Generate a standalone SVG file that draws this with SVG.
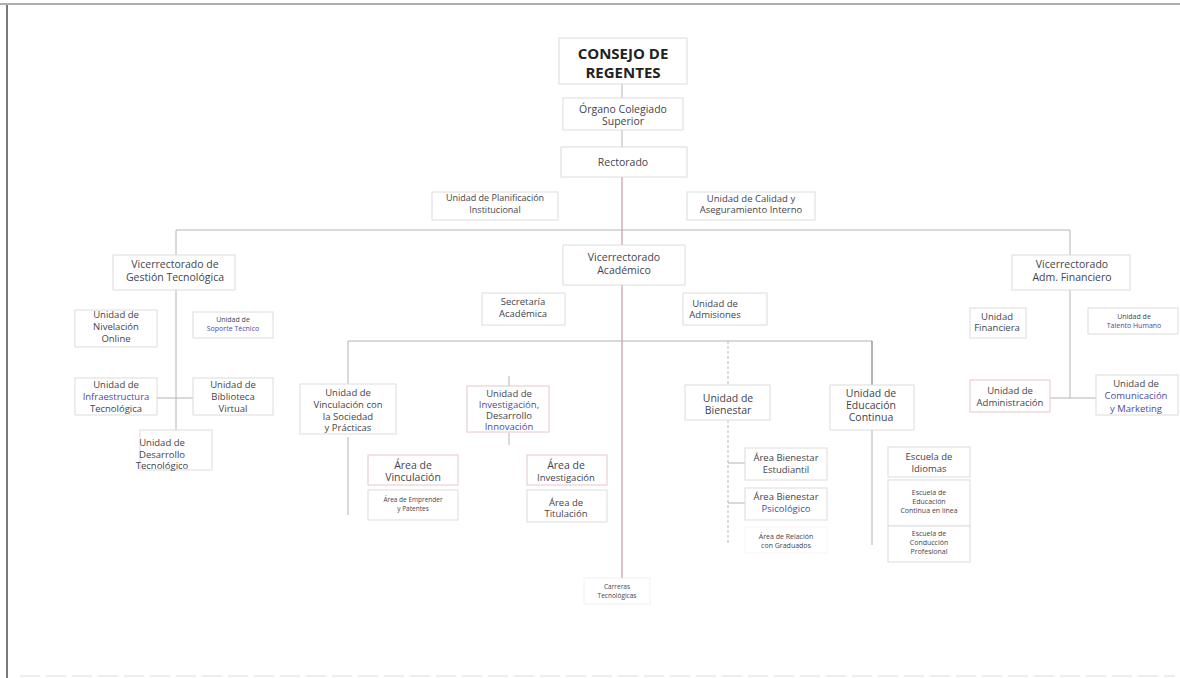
<svg xmlns="http://www.w3.org/2000/svg" width="1180" height="678" viewBox="0 0 1180 678">
<style>
  text { font-family: "Open Sans", "Liberation Sans", sans-serif; font-size: 9.5px; fill: #44444e; text-anchor: middle; }
  .sm { font-size: 7px; }
  .xs { font-size: 6.5px; }
  .md { font-size: 10.5px; }
  .b { fill: #4a4aa8; }
  .title { font-size: 15px; font-weight: bold; fill: #222; }
  .box { fill: #fff; stroke: #dcdcdc; stroke-width: 1; }
  .boxp { fill: #fff; stroke: #e6c6cc; stroke-width: 1; }
  .ln { stroke: #b4b4b4; stroke-width: 1; fill: none; }
  .lnd { stroke: #666; stroke-width: 1; fill: none; }
  .sp { stroke: #c89aa4; stroke-width: 1.2; fill: none; }
  .dash { stroke: #bbb; stroke-width: 1; stroke-dasharray: 3 2; fill: none; }
</style>
<rect x="0" y="0" width="1180" height="678" fill="#fff"/>
<g id="frame">
  <line x1="0" y1="4" x2="1180" y2="4" stroke="#aab0ae" stroke-width="2"/>
  <line x1="7" y1="5" x2="7" y2="678" stroke="#7a7a7a" stroke-width="2"/>
  <line x1="20" y1="676" x2="1175" y2="676" stroke="#ddd" stroke-width="1" stroke-dasharray="20 6"/>
</g>
<g id="connectors">
  <line class="ln" x1="622" y1="84" x2="622" y2="147"/>
  <line class="sp" x1="622" y1="177" x2="622" y2="578"/>
  <line class="ln" x1="176" y1="230" x2="1070" y2="230"/>
  <line class="ln" x1="176" y1="230" x2="176" y2="258"/>
  <line class="ln" x1="176" y1="290" x2="176" y2="430"/>
  <line class="ln" x1="157" y1="398" x2="193" y2="398"/>
  <line class="ln" x1="1070" y1="230" x2="1070" y2="258"/>
  <line class="ln" x1="1070" y1="290" x2="1070" y2="398"/>
  <line class="ln" x1="1050" y1="398" x2="1096" y2="398"/>
  <line class="ln" x1="348" y1="341" x2="872" y2="341"/>
  <line class="ln" x1="348" y1="341" x2="348" y2="384"/>
  <line class="ln" x1="509" y1="376" x2="509" y2="386"/>
  <line class="dash" x1="728" y1="341" x2="728" y2="385"/>
  <line class="lnd" x1="872" y1="341" x2="872" y2="385"/>
  <line class="ln" x1="348" y1="437" x2="348" y2="515"/>
  <line class="ln" x1="509" y1="433" x2="509" y2="445"/>
  <line class="dash" x1="728" y1="420" x2="728" y2="545"/>
  <line class="ln" x1="728" y1="463" x2="745" y2="463"/>
  <line class="ln" x1="728" y1="503" x2="745" y2="503"/>
  <line class="ln" x1="872" y1="430" x2="872" y2="545"/>
</g>
<g id="consejo">
  <rect class="box" x="559" y="38" width="128" height="46"/>
  <text class="title" x="623" y="59">CONSEJO DE</text>
  <text class="title" x="623" y="78">REGENTES</text>
</g>
<g id="organo">
  <rect class="box" x="563" y="98" width="120" height="32"/>
  <text class="md" x="623" y="113">Órgano Colegiado</text>
  <text class="md" x="623" y="125">Superior</text>
</g>
<g id="rectorado">
  <rect class="box" x="561" y="147" width="126" height="30"/>
  <text class="md" x="623" y="166">Rectorado</text>
</g>
<g id="planificacion">
  <rect class="box" x="432" y="192" width="126" height="28"/>
  <text x="495" y="201" style="font-size:9px">Unidad de Planificación</text>
  <text x="495" y="213" style="font-size:9px">Institucional</text>
</g>
<g id="calidad">
  <rect class="box" x="687" y="192" width="128" height="28"/>
  <text x="751" y="202">Unidad de Calidad y</text>
  <text x="751" y="213">Aseguramiento Interno</text>
</g>
<g id="vgt">
  <rect class="box" x="113" y="255" width="122" height="35"/>
  <text class="md" x="175" y="268">Vicerrectorado de</text>
  <text class="md" x="175" y="281">Gestión Tecnológica</text>
</g>
<g id="vac">
  <rect class="box" x="563" y="245" width="122" height="40"/>
  <text class="md" x="624" y="261">Vicerrectorado</text>
  <text class="md" x="624" y="274">Académico</text>
</g>
<g id="vaf">
  <rect class="box" x="1012" y="255" width="118" height="35"/>
  <text class="md" x="1072" y="268">Vicerrectorado</text>
  <text class="md" x="1072" y="281">Adm. Financiero</text>
</g>
<g id="nivelacion">
  <rect class="box" x="75" y="310" width="82" height="37"/>
  <text x="116" y="318">Unidad de</text>
  <text x="116" y="330">Nivelación</text>
  <text x="116" y="342">Online</text>
</g>
<g id="soporte">
  <rect class="box" x="193" y="312" width="80" height="26"/>
  <text class="sm" x="233" y="322">Unidad de</text>
  <text class="sm b" x="233" y="331">Soporte Técnico</text>
</g>
<g id="infraestructura">
  <rect class="box" x="75" y="378" width="82" height="37"/>
  <text x="116" y="388">Unidad de</text>
  <text class="b" x="116" y="400">Infraestructura</text>
  <text x="116" y="412">Tecnológica</text>
</g>
<g id="biblioteca">
  <rect class="box" x="193" y="378" width="80" height="37"/>
  <text x="233" y="388">Unidad de</text>
  <text x="233" y="400">Biblioteca</text>
  <text x="233" y="412">Virtual</text>
</g>
<g id="desarrollo">
  <rect class="box" x="140" y="430" width="72" height="40"/>
  <text x="162" y="446">Unidad de</text>
  <text x="162" y="458">Desarrollo</text>
  <text x="162" y="469">Tecnológico</text>
</g>
<g id="secretaria">
  <rect class="box" x="482" y="293" width="83" height="32"/>
  <text x="523" y="305">Secretaría</text>
  <text x="523" y="317">Académica</text>
</g>
<g id="admisiones">
  <rect class="box" x="683" y="293" width="84" height="32"/>
  <text x="715" y="307">Unidad de</text>
  <text x="715" y="318">Admisiones</text>
</g>
<g id="financiera">
  <rect class="box" x="970" y="308" width="56" height="30"/>
  <text x="997" y="320">Unidad</text>
  <text x="997" y="331">Financiera</text>
</g>
<g id="talento">
  <rect class="box" x="1088" y="308" width="90" height="26"/>
  <text class="sm" x="1134" y="319">Unidad de</text>
  <text class="sm b" x="1134" y="328">Talento Humano</text>
</g>
<g id="administracion">
  <rect class="boxp" x="970" y="380" width="80" height="32"/>
  <text x="1010" y="394">Unidad de</text>
  <text x="1010" y="406">Administración</text>
</g>
<g id="comunicacion">
  <rect class="box" x="1096" y="375" width="82" height="40"/>
  <text x="1136" y="387">Unidad de</text>
  <text class="b" x="1136" y="399">Comunicación</text>
  <text class="b" x="1136" y="412">y Marketing</text>
</g>
<g id="vinculacion">
  <rect class="box" x="300" y="384" width="96" height="50"/>
  <text x="348" y="396">Unidad de</text>
  <text x="348" y="408">Vinculación con</text>
  <text x="348" y="420">la Sociedad</text>
  <text x="348" y="431">y Prácticas</text>
</g>
<g id="investigacion">
  <rect class="boxp" x="467" y="386" width="82" height="46"/>
  <text x="509" y="397">Unidad de</text>
  <text class="b" x="509" y="408">Investigación,</text>
  <text x="509" y="419">Desarrollo</text>
  <text class="b" x="509" y="430">Innovación</text>
</g>
<g id="bienestar">
  <rect class="box" x="685" y="385" width="85" height="35"/>
  <text class="md" x="728" y="402">Unidad de</text>
  <text class="md" x="728" y="414">Bienestar</text>
</g>
<g id="educacion">
  <rect class="box" x="830" y="385" width="84" height="45"/>
  <text class="md" x="871" y="397">Unidad de</text>
  <text class="md" x="871" y="409">Educación</text>
  <text class="md" x="871" y="421">Continua</text>
</g>
<g id="area-vinculacion">
  <rect class="boxp" x="368" y="455" width="90" height="30"/>
  <text class="md" x="413" y="469">Área de</text>
  <text class="md" x="413" y="481">Vinculación</text>
</g>
<g id="area-emprender">
  <rect class="box" x="368" y="490" width="90" height="30"/>
  <text class="xs" x="413" y="502">Área de Emprender</text>
  <text class="xs" x="413" y="511">y Patentes</text>
</g>
<g id="area-investigacion">
  <rect class="boxp" x="527" y="455" width="80" height="30"/>
  <text class="md" x="566" y="469">Área de</text>
  <text x="566" y="481">Investigación</text>
</g>
<g id="area-titulacion">
  <rect class="box" x="527" y="490" width="80" height="32"/>
  <text x="566" y="506">Área de</text>
  <text x="566" y="517">Titulación</text>
</g>
<g id="area-estudiantil">
  <rect class="box" x="745" y="448" width="82" height="32"/>
  <text x="786" y="461">Área Bienestar</text>
  <text x="786" y="473">Estudiantil</text>
</g>
<g id="area-psicologico">
  <rect class="box" x="745" y="488" width="82" height="32"/>
  <text x="786" y="500">Área Bienestar</text>
  <text class="b" x="786" y="512">Psicológico</text>
</g>
<g id="area-graduados">
  <rect class="box" x="745" y="527" width="82" height="26" stroke-opacity="0.3"/>
  <text class="sm" x="786" y="539">Área de Relación</text>
  <text class="sm" x="786" y="548">con Graduados</text>
</g>
<g id="idiomas">
  <rect class="box" x="888" y="447" width="82" height="30"/>
  <text x="929" y="460">Escuela de</text>
  <text x="929" y="472">Idiomas</text>
</g>
<g id="educacion-linea">
  <rect class="box" x="888" y="480" width="82" height="46"/>
  <text class="sm" x="929" y="495">Escuela de</text>
  <text class="sm" x="929" y="504">Educación</text>
  <text class="sm" x="929" y="513">Continua en línea</text>
</g>
<g id="conduccion">
  <rect class="box" x="888" y="526" width="82" height="36"/>
  <text class="sm" x="929" y="536">Escuela de</text>
  <text class="sm" x="929" y="545">Conducción</text>
  <text class="sm" x="929" y="554">Profesional</text>
</g>
<g id="carreras">
  <rect class="box" x="584" y="578" width="66" height="26" stroke-opacity="0.4"/>
  <text class="xs" x="617" y="589">Carreras</text>
  <text class="xs" x="617" y="598">Tecnológicas</text>
</g>
</svg>
